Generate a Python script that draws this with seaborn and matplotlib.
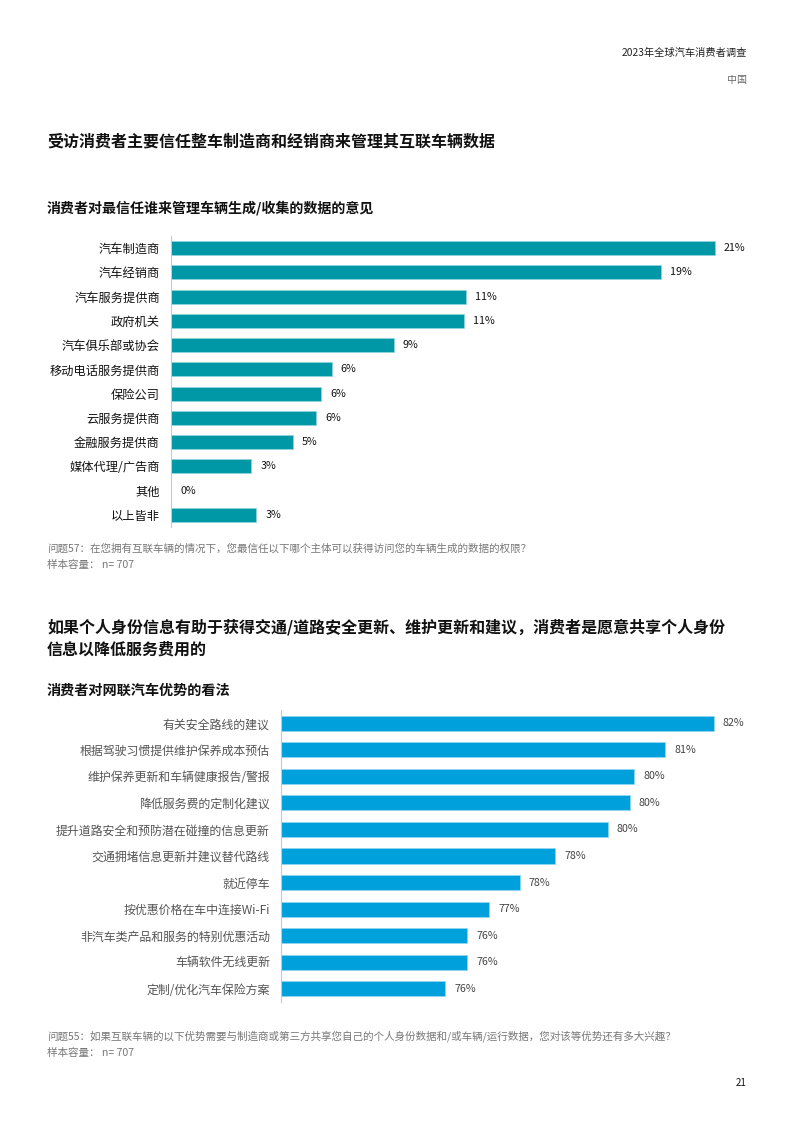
import matplotlib
matplotlib.use("Agg")
import matplotlib.pyplot as plt
import seaborn as sns
import pandas as pd

# Donnees - graphique 1
trust_cats = ["汽车制造商", "汽车经销商", "汽车服务提供商", "政府机关", "汽车俱乐部或协会",
              "移动电话服务提供商", "保险公司", "云服务提供商", "金融服务提供商",
              "媒体代理/广告商", "其他", "以上皆非"]
trust_vals = [21.0, 18.9, 11.4, 11.3, 8.6, 6.2, 5.8, 5.6, 4.7, 3.1, 0.0, 3.3]

# Donnees - graphique 2
benefit_cats = ["有关安全路线的建议", "根据驾驶习惯提供维护保养成本预估", "维护保养更新和车辆健康报告/警报",
                "降低服务费的定制化建议", "提升道路安全和预防潜在碰撞的信息更新", "交通拥堵信息更新并建议替代路线",
                "就近停车", "按优惠价格在车中连接Wi-Fi", "非汽车类产品和服务的特别优惠活动",
                "车辆软件无线更新", "定制/优化汽车保险方案"]
benefit_vals = [82.0, 80.9, 80.2, 80.1, 79.6, 78.4, 77.6, 76.9, 76.4, 76.4, 75.9]

TEAL = "#0097a7"
BLUE = "#00a0dc"
W, H = 793, 1122

sns.set_style("white")
plt.rcParams['font.family'] = ['Noto Sans CJK SC', 'DejaVu Sans']

fig = plt.figure(figsize=(W / 100, H / 100), dpi=100)


def fy(px):
    return 1 - px / H


def make_axes(x0, x1, y0, y1):
    return fig.add_axes([x0 / W, 1 - y1 / H, (x1 - x0) / W, (y1 - y0) / H])


def style_ax(ax, xlim, lab_color, pad, size):
    ax.set_xlim(*xlim)
    ax.set_xlabel("")
    ax.set_ylabel("")
    ax.set_xticks([])
    for s in ["top", "right", "bottom"]:
        ax.spines[s].set_visible(False)
    ax.spines["left"].set_color("#c8c8c8")
    ax.spines["left"].set_linewidth(0.8)
    ax.tick_params(axis="y", length=0, pad=pad, labelsize=size, labelcolor=lab_color)


# En-tete
fig.text(747 / W, fy(53), "2023年全球汽车消费者调查", ha="right", va="center", fontsize=7.4, color="#222222")
fig.text(747 / W, fy(80), "中国", ha="right", va="center", fontsize=7.2, color="#666666")

# Graphique 1
fig.text(47 / W, fy(142), "受访消费者主要信任整车制造商和经销商来管理其互联车辆数据",
         ha="left", va="center", fontsize=11.5, fontweight="bold", color="#111111")
fig.text(47 / W, fy(208), "消费者对最信任谁来管理车辆生成/收集的数据的意见",
         ha="left", va="center", fontsize=10.1, fontweight="bold", color="#111111")

df1 = pd.DataFrame({"cat": trust_cats, "val": trust_vals})
ax1 = make_axes(171, 747, 236, 527)
sns.barplot(data=df1, x="val", y="cat", color=TEAL, width=0.58, saturation=1,
            edgecolor="#8fd3dc", linewidth=0.6, ax=ax1)
style_ax(ax1, (0, 576 / 25.9), "#111111", 8, 8.8)
ax1.bar_label(ax1.containers[0], labels=[f"{v:.0f}%" for v in trust_vals],
              padding=6.5, fontsize=7.7, color="#111111", fontweight="medium")

fig.text(47 / W, fy(548), "问题57：在您拥有互联车辆的情况下，您最信任以下哪个主体可以获得访问您的车辆生成的数据的权限？",
         ha="left", va="center", fontsize=7.6, color="#777777")
fig.text(47 / W, fy(565), "样本容量： n= 707", ha="left", va="center", fontsize=7.6, color="#777777")

# Graphique 2
fig.text(47 / W, fy(627), "如果个人身份信息有助于获得交通/道路安全更新、维护更新和建议，消费者是愿意共享个人身份",
         ha="left", va="center", fontsize=11.5, fontweight="bold", color="#111111")
fig.text(47 / W, fy(650), "信息以降低服务费用的",
         ha="left", va="center", fontsize=11.5, fontweight="bold", color="#111111")
fig.text(47 / W, fy(691), "消费者对网联汽车优势的看法",
         ha="left", va="center", fontsize=10.2, fontweight="bold", color="#111111")

df2 = pd.DataFrame({"cat": benefit_cats, "val": benefit_vals})
ax2 = make_axes(281, 747, 710, 1002)
sns.barplot(data=df2, x="val", y="cat", color=BLUE, width=0.57, saturation=1,
            edgecolor="#8fd6f0", linewidth=0.6, ax=ax2)
style_ax(ax2, (72.17, 72.17 + 466 / 44), "#555555", 8, 8.6)
ax2.bar_label(ax2.containers[0], labels=[f"{v:.0f}%" for v in benefit_vals],
              padding=6.5, fontsize=7.7, color="#444444")

fig.text(47 / W, fy(1036), "问题55：如果互联车辆的以下优势需要与制造商或第三方共享您自己的个人身份数据和/或车辆/运行数据，您对该等优势还有多大兴趣？",
         ha="left", va="center", fontsize=7.6, color="#777777")
fig.text(47 / W, fy(1053), "样本容量： n= 707", ha="left", va="center", fontsize=7.6, color="#777777")

fig.text(747 / W, fy(1083), "21", ha="right", va="center", fontsize=7, color="#111111")

fig.savefig("out.png", dpi=100, facecolor="white")
